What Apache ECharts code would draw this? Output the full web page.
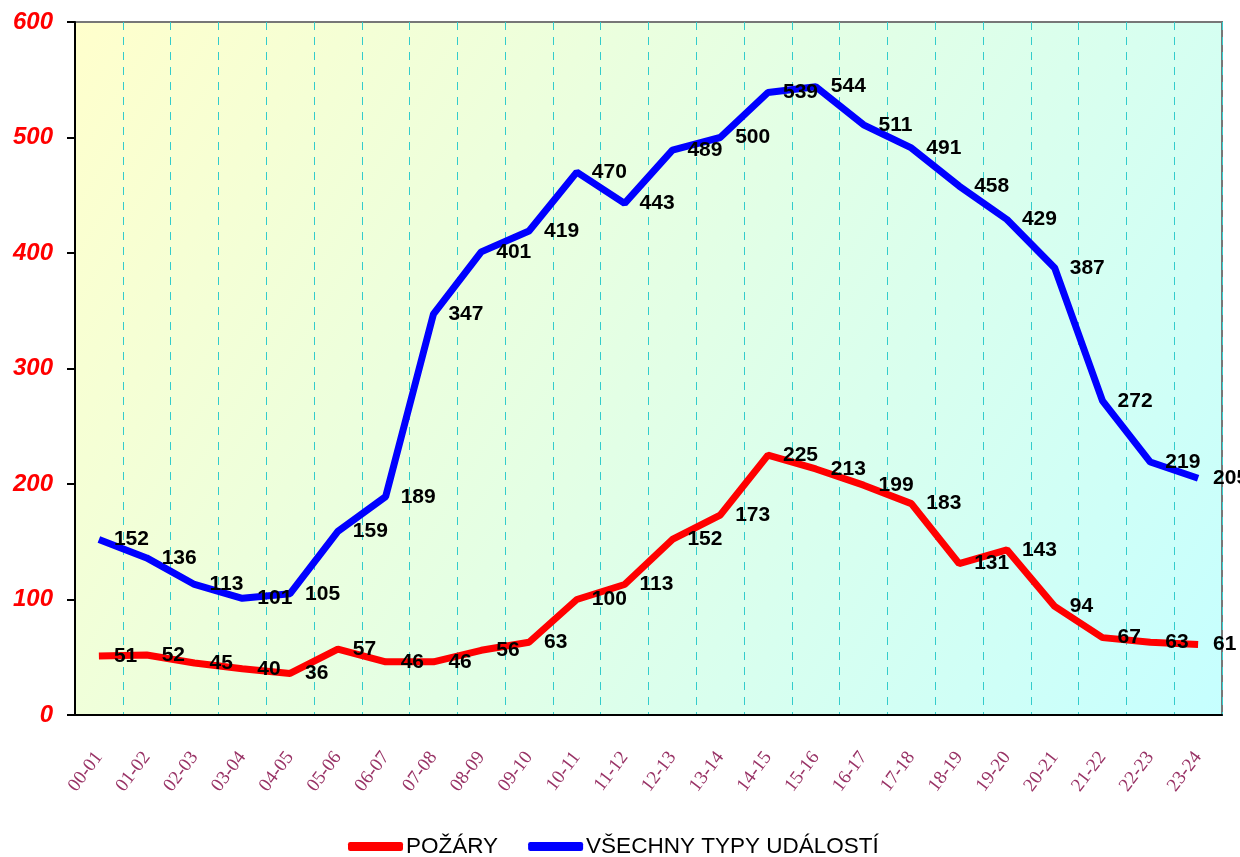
<!DOCTYPE html>
<html>
<head>
<meta charset="utf-8">
<script src="https://cdn.jsdelivr.net/npm/echarts@6/dist/echarts.min.js"></script>
<style>
  html, body { margin: 0; padding: 0; background: #fff; }
  #chart { width: 1240px; height: 857px; }
</style>
</head>
<body>
<div id="chart"></div>
<script>
// hodiny
const hours = ["00-01", "01-02", "02-03", "03-04", "04-05", "05-06", "06-07", "07-08",
  "08-09", "09-10", "10-11", "11-12", "12-13", "13-14", "14-15", "15-16",
  "16-17", "17-18", "18-19", "19-20", "20-21", "21-22", "22-23", "23-24"];
// požáry
const pozary = [51, 52, 45, 40, 36, 57, 46, 46, 56, 63, 100, 113,
  152, 173, 225, 213, 199, 183, 131, 143, 94, 67, 63, 61];
// všechny typy událostí
const vsechny = [152, 136, 113, 101, 105, 159, 189, 347, 401, 419, 470, 443,
  489, 500, 539, 544, 511, 491, 458, 429, 387, 272, 219, 205];

const chart = echarts.init(document.getElementById("chart"));

const dataLabel = {
  show: true,
  position: "right",
  distance: 15,
  color: "#000",
  fontFamily: "Liberation Sans, Arial",
  fontWeight: "bold",
  fontSize: 21,
};

chart.setOption({
  animation: false,
  grid: {
    left: 75,
    right: 18,
    top: 22,
    bottom: 142,
    show: true,
    borderColor: "#777",
    borderWidth: 2,
    backgroundColor: new echarts.graphic.LinearGradient(0, 0, 1, 1, [
      { offset: 0, color: "#ffffcc" },
      { offset: 1, color: "#c6ffff" },
    ]),
  },
  legend: {
    top: 830,
    left: 343,
    icon: "roundRect",
    itemWidth: 55,
    itemHeight: 9,
    itemGap: 30,
    textStyle: { color: "#000", fontSize: 22.5, fontFamily: "Liberation Sans, Arial", padding: [0, 0, 0, -2] },
    data: [
      { name: "POŽÁRY", itemStyle: { color: "#ff0000" } },
      { name: "VŠECHNY TYPY UDÁLOSTÍ", itemStyle: { color: "#0000ff" } },
    ],
  },
  xAxis: {
    type: "category",
    data: hours,
    boundaryGap: true,
    axisLine: { lineStyle: { color: "#000", width: 2 } },
    axisTick: { show: false },
    axisLabel: {
      rotate: 53,
      margin: 39,
      color: "#993366",
      fontFamily: "Liberation Serif, Times New Roman",
      fontSize: 19,
      interval: 0,
    },
    splitLine: {
      show: true,
      interval: 0,
      lineStyle: { color: "#33cccc", type: [8, 7], width: 1 },
    },
  },
  yAxis: {
    type: "value",
    min: 0,
    max: 600,
    interval: 100,
    axisLine: { show: true, lineStyle: { color: "#000", width: 2 } },
    axisTick: { show: true, inside: false, length: 8, lineStyle: { color: "#000", width: 2 } },
    axisLabel: {
      margin: 22,
      color: "#ff0000",
      fontFamily: "Liberation Sans, Arial",
      fontWeight: "bold",
      fontStyle: "italic",
      fontSize: 24,
    },
    splitLine: { show: false },
  },
  series: [
    {
      name: "POŽÁRY",
      type: "line",
      data: pozary,
      showSymbol: true,
      symbol: "circle",
      symbolSize: 0,
      color: "#ff0000",
      lineStyle: { color: "#ff0000", width: 7 },
      label: dataLabel,
      labelLayout: { hideOverlap: false },
    },
    {
      name: "VŠECHNY TYPY UDÁLOSTÍ",
      type: "line",
      data: vsechny,
      showSymbol: true,
      symbol: "circle",
      symbolSize: 0,
      color: "#0000ff",
      lineStyle: { color: "#0000ff", width: 7 },
      label: dataLabel,
      labelLayout: { hideOverlap: false },
    },
  ],
});
</script>
</body>
</html>
